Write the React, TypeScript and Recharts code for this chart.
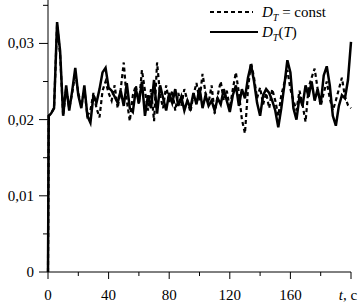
import { LineChart, Line, XAxis, YAxis } from 'recharts';

const times = [
  0, 0.5, 2, 4, 6, 8, 10, 12, 14, 16, 18, 20, 22, 24, 26, 28, 30, 32, 34, 36, 38, 40,
  42, 44, 46, 48, 50, 52, 54, 56, 58, 60, 62, 64, 66, 68, 70, 72, 74, 76, 78, 80,
  82, 84, 86, 88, 90, 92, 94, 96, 98, 100, 102, 104, 106, 108, 110, 112, 114, 116, 118, 120,
  122, 124, 126, 128, 130, 132, 134, 136, 138, 140, 142, 144, 146, 148, 150, 152, 154, 156, 158, 160,
  162, 164, 166, 168, 170, 172, 174, 176, 178, 180, 182, 184, 186, 188, 190, 192, 194, 196, 198, 200,
];

// D_T(T) – solid line
const dtOfT = [
  0, 0.0205, 0.0208, 0.0215, 0.0328, 0.029, 0.0205, 0.0245, 0.0212, 0.0238, 0.0268, 0.0232,
  0.0215, 0.0245, 0.0205, 0.0196, 0.0232, 0.0222, 0.024, 0.0262, 0.0268, 0.0242,
  0.0238, 0.023, 0.0222, 0.0238, 0.0218, 0.0248, 0.0215, 0.021, 0.024, 0.0222,
  0.025, 0.0205, 0.0232, 0.0215, 0.0252, 0.0208, 0.0245, 0.0228, 0.0212, 0.0235,
  0.0222, 0.024, 0.0218, 0.023, 0.0212, 0.0225, 0.0215, 0.0235, 0.022, 0.0242,
  0.0215, 0.0232, 0.0218, 0.0225, 0.0212, 0.0228, 0.022, 0.024, 0.0225, 0.021,
  0.0232, 0.0245, 0.0218, 0.024, 0.0228, 0.0255, 0.0272, 0.025, 0.0222, 0.0205,
  0.0232, 0.024, 0.0235, 0.0225, 0.0212, 0.019, 0.0215, 0.0245, 0.0278, 0.0262,
  0.0215, 0.02, 0.023, 0.0218, 0.0245, 0.023, 0.025, 0.0225, 0.024, 0.022,
  0.0258, 0.027, 0.0245, 0.0205, 0.0192, 0.0218, 0.0232, 0.0228, 0.0252, 0.0302,
];

// D_T = const – dashed line
const dtConst = [
  0, 0.0205, 0.0208, 0.0215, 0.0325, 0.0285, 0.0205, 0.0242, 0.0215, 0.0235, 0.0262, 0.0235,
  0.0218, 0.024, 0.0205, 0.0212, 0.0235, 0.0215, 0.0203, 0.0238, 0.025, 0.0235,
  0.0225, 0.0245, 0.0215, 0.024, 0.0275, 0.0225, 0.0198, 0.0232, 0.0245, 0.022,
  0.0265, 0.0238, 0.0212, 0.024, 0.0198, 0.0275, 0.0232, 0.0215, 0.0245, 0.0222,
  0.0238, 0.0212, 0.0235, 0.0218, 0.024, 0.0225, 0.021, 0.0232, 0.0248, 0.0225,
  0.026, 0.0235, 0.0222, 0.0245, 0.0208, 0.0232, 0.025, 0.0225, 0.0238, 0.0215,
  0.024, 0.0262, 0.0235, 0.02, 0.0182, 0.024, 0.0275, 0.0255, 0.0228, 0.0242,
  0.022, 0.0235, 0.0215, 0.024, 0.0225, 0.0205, 0.0232, 0.0248, 0.0265, 0.024,
  0.0225, 0.0212, 0.0238, 0.022, 0.0197, 0.0242, 0.0255, 0.0267, 0.024, 0.0218,
  0.0235, 0.025, 0.0228, 0.0212, 0.0225, 0.024, 0.0255, 0.023, 0.0219, 0.0215,
];

const xTicks = [0, 20, 40, 60, 80, 100, 120, 140, 160, 180, 200];
const xLabels: Record<number, string> = { 0: '0', 40: '40', 80: '80', 120: '120', 160: '160' };
const yTicks = [0, 0.005, 0.01, 0.015, 0.02, 0.025, 0.03, 0.035];
const yLabels: Record<string, string> = { '0': '0', '0.01': '0,01', '0.02': '0,02', '0.03': '0,03' };

const data = times.map((t, i) => ({ t, solid: dtOfT[i], dashed: dtConst[i] }));

const FONT = '"Liberation Serif", "Times New Roman", serif';

const XTick = ({ x, y, payload }: any) => {
  const v = payload.value;
  const major = v % 40 === 0;
  return (
    <g>
      <line x1={x} x2={x} y1={y} y2={y + (major ? 7 : 4)} stroke="#000" strokeWidth={1} />
      {v === 200 ? (
        <text x={x - 3} y={y + 28} textAnchor="middle" fontSize={15} fontFamily={FONT} fill="#000">
          <tspan fontStyle="italic">t</tspan>, c
        </text>
      ) : major ? (
        <text x={x} y={y + 28} textAnchor="middle" fontSize={15} fontFamily={FONT} fill="#000">
          {xLabels[v]}
        </text>
      ) : null}
    </g>
  );
};

const YTick = ({ x, y, payload }: any) => {
  const key = String(Math.round(payload.value * 1000) / 1000);
  const label = yLabels[key];
  return (
    <g>
      <line x1={x} x2={x - (label ? 9 : 5)} y1={y} y2={y} stroke="#000" strokeWidth={1} />
      {label && (
        <text x={x - 14} y={y + 5} textAnchor="end" fontSize={15} fontFamily={FONT} fill="#000">
          {label}
        </text>
      )}
    </g>
  );
};

const App = () => (
  <div style={{ position: 'absolute', left: 0, top: 0, width: 364, height: 305, background: '#fff' }}>
    <LineChart width={364} height={305} data={data} margin={{ top: 0, right: 13, bottom: 0, left: 0 }}>
      <XAxis
        dataKey="t"
        type="number"
        domain={[0, 200]}
        ticks={xTicks}
        interval={0}
        height={33}
        tickLine={false}
        tickSize={0}
        tickMargin={0}
        stroke="#000"
        tick={<XTick />}
      />
      <YAxis
        type="number"
        domain={[0, 0.0357]}
        ticks={yTicks}
        interval={0}
        width={48}
        tickLine={false}
        tickSize={0}
        tickMargin={0}
        stroke="#000"
        tick={<YTick />}
      />
      <Line
        dataKey="dashed"
        stroke="#000"
        strokeWidth={2.2}
        strokeDasharray="4 3"
        dot={false}
        type="linear"
        isAnimationActive={false}
      />
      <Line
        dataKey="solid"
        stroke="#000"
        strokeWidth={2.5}
        dot={false}
        type="linear"
        isAnimationActive={false}
      />
    </LineChart>
    <svg width={364} height={45} style={{ position: 'absolute', left: 0, top: 0 }}>
      <line x1={210} x2={253} y1={12} y2={12} stroke="#000" strokeWidth={2} strokeDasharray="4 3" />
      <text x={262} y={17} fontSize={15} fontFamily={FONT} fill="#000">
        <tspan fontStyle="italic">D</tspan>
        <tspan fontStyle="italic" fontSize={10} dy={4}>T</tspan>
        <tspan dy={-4}> = const</tspan>
      </text>
      <line x1={210} x2={258} y1={32} y2={32} stroke="#000" strokeWidth={2} />
      <text x={262} y={37} fontSize={15} fontFamily={FONT} fill="#000">
        <tspan fontStyle="italic">D</tspan>
        <tspan fontStyle="italic" fontSize={10} dy={4}>T</tspan>
        <tspan dy={-4}>(</tspan>
        <tspan fontStyle="italic">T</tspan>
        <tspan>)</tspan>
      </text>
    </svg>
  </div>
);

export default App;
